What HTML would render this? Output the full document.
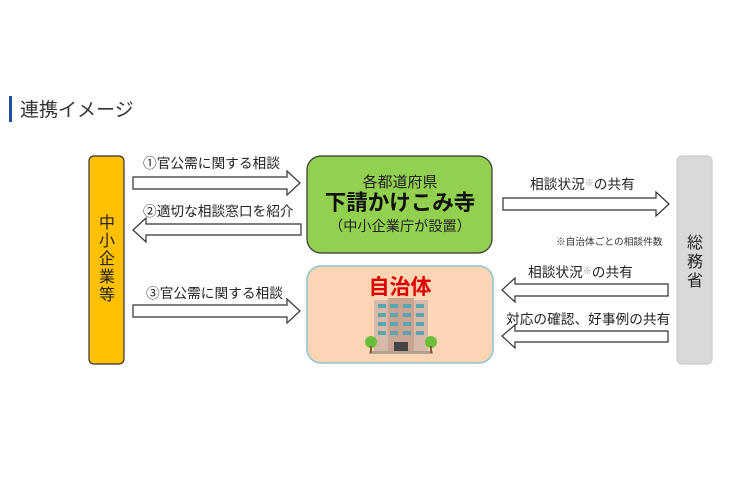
<!DOCTYPE html>
<html><head><meta charset="utf-8"><style>
body{margin:0;background:#fff;}
svg text{font-family:"Liberation Sans","Noto Sans CJK JP",sans-serif;}
</style></head><body>
<svg width="747" height="498" viewBox="0 0 747 498" xmlns="http://www.w3.org/2000/svg">
<rect x="9" y="96" width="3" height="26" fill="#1f4e9a"/>
<text x="20" y="116" font-size="19" fill="#333">連携イメージ</text>
<g stroke="#333" stroke-width="1.2">
<rect x="89" y="156" width="35" height="208" rx="5" fill="#ffc000"/>
<rect x="307" y="156" width="185" height="97" rx="14" fill="#92d050"/>
<rect x="307" y="266" width="186" height="97" rx="14" fill="#fcd5b5" stroke="#8cc3d0" stroke-width="1.5"/>
<rect x="677" y="156" width="35" height="208" rx="5" fill="#d9d9d9" stroke="#ccc"/>
</g>
<g fill="#fff" stroke="#333" stroke-width="1.2">
<polygon points="133,177 287,177 287,171 300,183 287,195 287,189 133,189"/>
<polygon points="301,224 146,224 146,218 133,230 146,242 146,235 301,235"/>
<polygon points="133,305 287,305 287,299 300,311 287,323 287,317 133,317"/>
<polygon points="503,198 656,198 656,192 669,204 656,216 656,210 503,210"/>
<polygon points="668,284 515,284 515,278 502,290 515,302 515,296 668,296"/>
<polygon points="668,331 515,331 515,325 502,336 515,348 515,342 668,342"/>
</g>
<g font-size="13.7" fill="#222">
<text x="143" y="168">①官公需に関する相談</text>
<text x="143" y="216">②適切な相談窓口を紹介</text>
<text x="146" y="298">③官公需に関する相談</text>
<text x="530" y="189">相談状況<tspan font-size="9" fill="#999" dy="-3">※</tspan><tspan dy="3">の共有</tspan></text>
<text x="528" y="277">相談状況<tspan font-size="9" fill="#999" dy="-3">※</tspan><tspan dy="3">の共有</tspan></text>
<text x="506" y="324">対応の確認、好事例の共有</text>
</g>
<text x="556" y="245" font-size="9.7" fill="#333">※自治体ごとの相談件数</text>
<g font-size="16" fill="#222" text-anchor="middle">
<text x="107" y="228">中</text><text x="107" y="246">小</text><text x="107" y="264">企</text><text x="107" y="282">業</text><text x="107" y="300">等</text>
<text x="695" y="248">総</text><text x="695" y="267">務</text><text x="695" y="286">省</text>
</g>
<text x="400" y="187" font-size="15" fill="#222" text-anchor="middle">各都道府県</text>
<text x="400" y="210" font-size="21.5" font-weight="bold" fill="#111" text-anchor="middle">下請かけこみ寺</text>
<text x="400" y="231" font-size="14.2" fill="#222" text-anchor="middle">（中小企業庁が設置）</text>
<text x="400" y="294" font-size="21" font-weight="bold" fill="#d00" text-anchor="middle">自治体</text>
<g>
<rect x="374" y="300" width="54" height="52" fill="#d8b8a8"/>
<rect x="388" y="298" width="26" height="54" fill="#c9a493"/>
<g fill="#5aa5b0">
<rect x="378" y="304" width="8" height="4"/><rect x="390" y="304" width="8" height="4"/><rect x="403" y="304" width="8" height="4"/><rect x="416" y="304" width="8" height="4"/>
<rect x="378" y="313" width="8" height="4"/><rect x="390" y="313" width="8" height="4"/><rect x="403" y="313" width="8" height="4"/><rect x="416" y="313" width="8" height="4"/>
<rect x="378" y="322" width="8" height="4"/><rect x="390" y="322" width="8" height="4"/><rect x="403" y="322" width="8" height="4"/><rect x="416" y="322" width="8" height="4"/>
<rect x="378" y="331" width="8" height="4"/><rect x="390" y="331" width="8" height="4"/><rect x="403" y="331" width="8" height="4"/><rect x="416" y="331" width="8" height="4"/>
</g>
<rect x="394" y="342" width="14" height="10" fill="#444"/>
<rect x="369" y="351" width="64" height="3" fill="#b0a090"/>
<circle cx="371" cy="342" r="6" fill="#6abf3a"/><rect x="370" y="346" width="2" height="7" fill="#8a5a30"/>
<circle cx="431" cy="342" r="6" fill="#6abf3a"/><rect x="430" y="346" width="2" height="7" fill="#8a5a30"/>
</g>
</svg>
</body></html>
